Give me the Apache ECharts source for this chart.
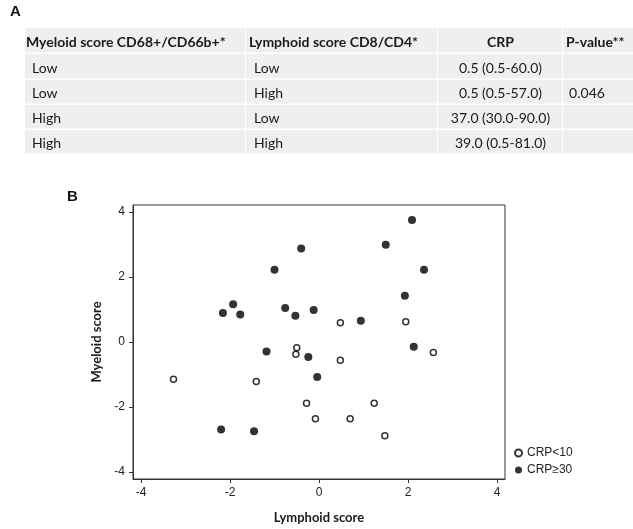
<!DOCTYPE html>
<html>
<head>
<meta charset="utf-8">
<title>Myeloid / lymphoid score and CRP</title>
<script src="https://cdn.jsdelivr.net/npm/echarts@6/dist/echarts.min.js"></script>
<style>
  html, body { margin: 0; padding: 0; background: #fff; }
  #chart { width: 633px; height: 529px; }
</style>
</head>
<body>
<div id="chart"></div>
<script>
// panel A - table
const tableHeader = ['Myeloid score CD68+/CD66b+*', 'Lymphoid score CD8/CD4*', 'CRP', 'P-value**'];
const myeloidLevel = ['Low', 'Low', 'High', 'High'];
const lymphoidLevel = ['Low', 'High', 'Low', 'High'];
const crpMedian = ['0.5 (0.5-60.0)', '0.5 (0.5-57.0)', '37.0 (30.0-90.0)', '39.0 (0.5-81.0)'];
const pValue = ['', '0.046', '', ''];

// panel B - scatter, x = lymphoid score, y = myeloid score
const lowCrpX = [0.48, 1.95, 2.57, -0.50, -0.52, 0.48, -3.27, -1.41, -0.28, 1.24, -0.08, 0.70, 1.48];
const lowCrpY = [0.60, 0.63, -0.32, -0.17, -0.37, -0.56, -1.14, -1.21, -1.88, -1.88, -2.36, -2.36, -2.88];
const highCrpX = [2.09, 1.50, -0.40, -1.00, 2.36, 1.93, -2.16, -1.93, -1.77, -0.76, -0.53, -0.12, 0.94,
                  2.13, -1.18, -0.24, -0.04, -2.20, -1.46];
const highCrpY = [3.76, 3.00, 2.88, 2.23, 2.23, 1.43, 0.90, 1.17, 0.85, 1.05, 0.81, 0.99, 0.66,
                  -0.14, -0.29, -0.46, -1.07, -2.69, -2.74];
const axisTicks = [-4, -2, 0, 2, 4];

const seriesNames = ['CRP<10', 'CRP\u226530'];

function pairs(xs, ys) {
    let result = [];
    for (let i = 0; i < xs.length; i++) {
        result.push([xs[i], ys[i]]);
    }
    return result;
}

// table layout
const colX = [25, 246, 438, 563, 640];
const rowY = [28, 54, 80, 105, 130, 155];
const tableFont = 'Lato, "Noto Sans", sans-serif';
const ink = '#1a1a1a';

function cellText(text, x, y, bold, align) {
    return {
        type: 'text',
        x: x,
        y: y,
        style: {
            text: text,
            fill: ink,
            fontFamily: tableFont,
            fontSize: 14,
            fontWeight: bold ? 'bold' : 'normal',
            align: align,
            verticalAlign: 'middle'
        }
    };
}

function buildTable() {
    let els = [];
    for (let r = 0; r < rowY.length - 1; r++) {
        for (let c = 0; c < colX.length - 1; c++) {
            els.push({
                type: 'rect',
                shape: { x: colX[c], y: rowY[r], width: colX[c + 1] - colX[c] - 1, height: rowY[r + 1] - rowY[r] - 1.5 },
                style: { fill: '#efefef' }
            });
        }
    }
    const hy = (rowY[0] + rowY[1]) / 2 + 1;
    els.push(cellText(tableHeader[0], colX[0] + 1, hy, true, 'left'));
    els.push(cellText(tableHeader[1], colX[1] + 3, hy, true, 'left'));
    els.push(cellText(tableHeader[2], (colX[2] + colX[3]) / 2, hy, true, 'center'));
    els.push(cellText(tableHeader[3], colX[3] + 3, hy, true, 'left'));
    for (let i = 0; i < myeloidLevel.length; i++) {
        const y = (rowY[i + 1] + rowY[i + 2]) / 2 + 1;
        els.push(cellText(myeloidLevel[i], colX[0] + 7, y, false, 'left'));
        els.push(cellText(lymphoidLevel[i], colX[1] + 8, y, false, 'left'));
        els.push(cellText(crpMedian[i], (colX[2] + colX[3]) / 2, y, false, 'center'));
        if (pValue[i]) {
            els.push(cellText(pValue[i], 587, y, false, 'center'));
        }
    }
    return els;
}

const panelLabel = (text, x, y) => ({
    type: 'text', x: x, y: y,
    style: { text: text, fill: '#111', fontFamily: '"Liberation Sans", Arial, sans-serif', fontSize: 15, fontWeight: 'bold' }
});

const axisColor = '#333';
const tickFont = '"Liberation Sans", Arial, sans-serif';
const titleStyle = { fontFamily: tableFont, fontWeight: 'bold', fontSize: 13, color: ink };

function valueAxis(name, min, max, gap) {
    return {
        type: 'value',
        min: min,
        max: max,
        name: name,
        nameLocation: 'middle',
        nameGap: gap,
        nameTextStyle: titleStyle,
        splitLine: { show: false },
        axisLine: { show: true, onZero: false, lineStyle: { color: axisColor, width: 1 } },
        axisTick: { show: true, length: 4, customValues: axisTicks, lineStyle: { color: axisColor } },
        axisLabel: { customValues: axisTicks, margin: 8, fontFamily: tickFont, fontSize: 12, color: '#222' }
    };
}

let myChart = echarts.init(document.getElementById('chart'));
myChart.setOption({
    backgroundColor: '#fff',
    animation: false,
    graphic: buildTable().concat([panelLabel('A', 10, 4), panelLabel('B', 67, 189)]),
    grid: { left: 133, right: 128, top: 205, bottom: 45, show: true, borderColor: axisColor, borderWidth: 1 },
    xAxis: valueAxis('Lymphoid score', -4.18, 4.18, 32),
    yAxis: valueAxis('Myeloid score', -4.21, 4.22, 21),
    legend: {
        orient: 'vertical',
        left: 509,
        top: 442,
        itemWidth: 7,
        itemHeight: 7,
        itemGap: 5,
        textStyle: { fontFamily: tickFont, fontSize: 12, color: '#222' },
        data: [
            { name: seriesNames[0], icon: 'circle' },
            { name: seriesNames[1], icon: 'circle' }
        ]
    },
    series: [
        {
            name: seriesNames[0],
            type: 'scatter',
            symbol: 'circle',
            symbolSize: 6,
            itemStyle: { color: '#fff', borderColor: '#000', borderWidth: 1.5 },
            data: pairs(lowCrpX, lowCrpY)
        },
        {
            name: seriesNames[1],
            type: 'scatter',
            symbol: 'circle',
            symbolSize: 8,
            itemStyle: { color: '#000' },
            data: pairs(highCrpX, highCrpY)
        }
    ]
});
</script>
</body>
</html>
